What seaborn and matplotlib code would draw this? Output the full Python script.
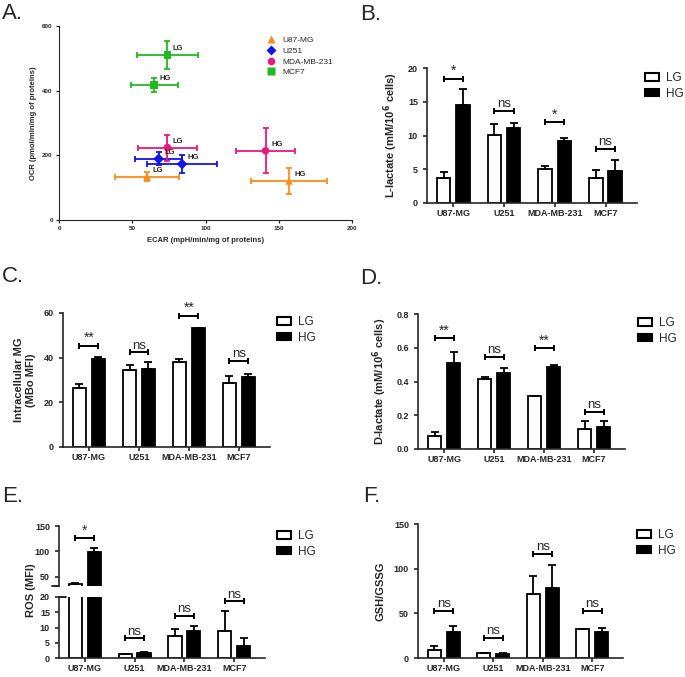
import numpy as np
import pandas as pd
import matplotlib
matplotlib.use("Agg")
import matplotlib.pyplot as plt
import seaborn as sns
from matplotlib.patches import Patch

cells = ["U87-MG", "U251", "MDA-MB-231", "MCF7"]
conds = ["LG", "HG"]

# A. ECAR vs OCR (mean, error) for LG and HG
ecar_lg = [60, 68, 74, 74]
ecar_hg = [157, 84, 141, 65]
ecar_lg_err = [22, 16, 20, 21]
ecar_hg_err = [26, 24, 20, 16]
ocr_lg = [134, 189, 224, 510]
ocr_hg = [121, 173, 214, 418]
ocr_lg_err = [14, 20, 40, 43]
ocr_hg_err = [40, 29, 69, 21]
cell_colors = ["#FF8C1A", "#1414E6", "#E8197D", "#22B822"]
cell_markers = ["^", "D", "o", "s"]

# B. L-lactate
llac_lg = [3.7, 10.1, 5.0, 3.7]
llac_hg = [14.5, 11.1, 9.2, 4.8]
llac_lg_err = [0.9, 1.6, 0.5, 1.2]
llac_hg_err = [2.4, 0.8, 0.5, 1.5]
llac_sig = ["*", "ns", "*", "ns"]
llac_sig_y = [18.4, 13.7, 12.0, 8.0]

# C. intracellular MG
mg_lg = [26.6, 34.3, 37.9, 28.5]
mg_hg = [39.3, 34.9, 53.2, 31.3]
mg_lg_err = [1.5, 2.4, 1.3, 3.4]
mg_hg_err = [1.2, 3.1, 0.3, 1.3]
mg_sig = ["**", "ns", "**", "ns"]
mg_sig_y = [45.3, 42.4, 58.8, 38.7]

# D. D-lactate
dlac_lg = [0.079, 0.413, 0.312, 0.121]
dlac_hg = [0.512, 0.453, 0.484, 0.130]
dlac_lg_err = [0.024, 0.016, 0.004, 0.047]
dlac_hg_err = [0.065, 0.027, 0.014, 0.038]
dlac_sig = ["**", "ns", "**", "ns"]
dlac_sig_y = [0.656, 0.547, 0.597, 0.221]

# E. ROS
ros_lg = [36.0, 1.2, 7.3, 8.8]
ros_hg = [99.7, 1.7, 8.8, 3.9]
ros_lg_err = [2.5, 0.2, 2.3, 6.6]
ros_hg_err = [8.0, 0.2, 1.7, 2.5]
ros_sig = ["*", "ns", "ns", "ns"]
ros_sig_y = [127.0, 6.4, 13.9, 18.7]

# F. GSH/GSSG
gsh_lg = [8.5, 5.6, 72.2, 32.6]
gsh_hg = [28.9, 4.8, 77.8, 28.9]
gsh_lg_err = [4.8, 0.4, 19.7, 0.3]
gsh_hg_err = [6.7, 0.4, 25.9, 4.8]
gsh_sig = ["ns", "ns", "ns", "ns"]
gsh_sig_y = [53.0, 22.6, 116.7, 53.0]

sns.set_style("ticks")
plt.rcParams["font.family"] = ["Liberation Sans", "DejaVu Sans"]

W, H = 685, 677
fig = plt.figure(figsize=(W / 100, H / 100), dpi=100)


def px_axes(left, top, right, bottom):
    return fig.add_axes([left / W, 1 - bottom / H, (right - left) / W, (bottom - top) / H])


def bold_ticks(ax, size):
    ax.tick_params(labelsize=size)
    for t in ax.get_xticklabels() + ax.get_yticklabels():
        t.set_fontweight("bold")


def bars(ax, lg, hg, lg_err, hg_err, sig, sig_y, ylim):
    df = pd.DataFrame({"cell": cells * 2, "cond": ["LG"] * 4 + ["HG"] * 4,
                       "val": list(lg) + list(hg)})
    sns.barplot(data=df, x="cell", y="val", hue="cond", order=cells, hue_order=conds,
                palette={"LG": "white", "HG": "black"}, edgecolor="black", linewidth=1.3,
                width=0.76, gap=0.3, errorbar=None, legend=False, ax=ax)
    x = np.arange(len(cells))
    for off, v, e in [(-0.19, lg, lg_err), (0.19, hg, hg_err)]:
        ax.errorbar(x + off, v, yerr=[np.zeros(len(v)), e], fmt="none", ecolor="black",
                    elinewidth=1.3, capsize=3, capthick=1.3)
    for xi, s, yi in zip(x, sig, sig_y):
        if ylim[0] < yi < ylim[1]:
            ax.errorbar(xi, yi, xerr=0.19, fmt="none", ecolor="black",
                        elinewidth=1.4, capsize=2.5, capthick=1.4)
            ax.text(xi, yi + (ylim[1] - ylim[0]) * 0.005, s, ha="center", va="bottom",
                    fontsize=10 if "*" in s else 9.5)
    ax.set_xlim(-0.52, 3.62)
    ax.set_ylim(*ylim)
    ax.set_xlabel("")
    ax.set_ylabel("")
    sns.despine(ax=ax)
    for s in ["left", "bottom"]:
        ax.spines[s].set_linewidth(1.2)
    ax.tick_params(width=1.2, length=3)
    ax.tick_params(axis="x", pad=1.5)
    bold_ticks(ax, 6.5)


def bar_legend(ax, x, y):
    handles = [Patch(facecolor="white", edgecolor="black", linewidth=1.5),
               Patch(facecolor="black", edgecolor="black", linewidth=1.5)]
    ax.legend(handles, conds, loc="upper left", bbox_to_anchor=(x / W, 1 - y / H),
              bbox_transform=fig.transFigure, frameon=False, fontsize=8.5,
              handlelength=1.2, handleheight=0.6, borderpad=0, borderaxespad=0,
              labelspacing=0.3, handletextpad=0.6)


def ylabel(ax, text, pad):
    ax.set_ylabel(text, fontsize=8, fontweight="bold", labelpad=pad)


# ---- A
axA = px_axes(59, 26, 352, 220)
dfA = pd.DataFrame({"cell": cells * 2, "ecar": ecar_lg + ecar_hg, "ocr": ocr_lg + ocr_hg})
pal = dict(zip(cells, cell_colors))
sns.scatterplot(data=dfA, x="ecar", y="ocr", hue="cell", style="cell", hue_order=cells,
                style_order=cells, palette=pal, markers=dict(zip(cells, cell_markers)),
                s=30, edgecolor="none", zorder=3, ax=axA)
for i, c in enumerate(cells):
    for xv, yv, xe, ye, lab in [(ecar_lg[i], ocr_lg[i], ecar_lg_err[i], ocr_lg_err[i], "LG"),
                                (ecar_hg[i], ocr_hg[i], ecar_hg_err[i], ocr_hg_err[i], "HG")]:
        axA.errorbar(xv, yv, xerr=xe, yerr=ye, fmt="none", ecolor=cell_colors[i],
                     elinewidth=1.3, capsize=2.5, capthick=1.3)
        axA.annotate(lab, (xv, yv), xytext=(4, 2), textcoords="offset points",
                     fontsize=5.5, fontweight="bold", va="bottom")
axA.set_xlim(0, 200)
axA.set_ylim(0, 600)
axA.set_xticks([0, 50, 100, 150, 200])
axA.set_yticks([0, 200, 400, 600])
axA.set_xlabel("ECAR (mpH/min/mg of proteins)", fontsize=5.5, fontweight="bold", labelpad=4)
axA.set_ylabel("OCR (pmol/min/mg of proteins)", fontsize=5.5, fontweight="bold", labelpad=4)
sns.despine(ax=axA)
axA.tick_params(width=0.9, length=2.5, pad=2)
bold_ticks(axA, 4.5)
sns.move_legend(axA, "upper left", bbox_to_anchor=(258 / W, 1 - 32 / H),
                bbox_transform=fig.transFigure, title=None, frameon=False, fontsize=6,
                markerscale=1.0, handletextpad=0.4, labelspacing=0.35, borderpad=0)

# ---- B
axB = px_axes(427, 68, 637, 203)
bars(axB, llac_lg, llac_hg, llac_lg_err, llac_hg_err, llac_sig, llac_sig_y, (0, 20))
axB.set_yticks([0, 5, 10, 15, 20])
ylabel(axB, "L-lactate (mM/10$^{\\mathbf{6}}$ cells)", 6)
bar_legend(axB, 645, 72)

# ---- C
axC = px_axes(63, 313, 270, 447)
bars(axC, mg_lg, mg_hg, mg_lg_err, mg_hg_err, mg_sig, mg_sig_y, (0, 60))
axC.set_yticks([0, 20, 40, 60])
ylabel(axC, "Intracellular MG\n(MBo MFI)", 6)
bar_legend(axC, 277, 316)

# ---- D
axD = px_axes(418, 314, 625, 449)
bars(axD, dlac_lg, dlac_hg, dlac_lg_err, dlac_hg_err, dlac_sig, dlac_sig_y, (0, 0.8))
axD.set_yticks([0, 0.2, 0.4, 0.6, 0.8])
axD.set_yticklabels(["0.0", "0.2", "0.4", "0.6", "0.8"], fontweight="bold")
ylabel(axD, "D-lactate (mM/10$^{\\mathbf{6}}$ cells)", 5)
bar_legend(axD, 638, 317)

# ---- E (broken axis)
axEu = px_axes(59, 526, 265, 586)
axEl = px_axes(59, 597, 265, 658)
bars(axEu, ros_lg, ros_hg, ros_lg_err, ros_hg_err, ros_sig, ros_sig_y, (32, 150))
bars(axEl, ros_lg, ros_hg, ros_lg_err, ros_hg_err, ros_sig, ros_sig_y, (0, 20))
axEu.set_yticks([50, 100, 150])
axEl.set_yticks([0, 5, 10, 15, 20])
axEu.spines["bottom"].set_visible(False)
axEu.tick_params(axis="x", bottom=False, labelbottom=False)
axEu.plot([-0.035, 0.0], [0.0, 0.0], transform=axEu.transAxes, color="black", lw=1.2, clip_on=False)
axEl.plot([0.0, 0.035], [1.0, 1.0], transform=axEl.transAxes, color="black", lw=1.2, clip_on=False)
fig.text(31 / W, 1 - 590 / H, "ROS (MFI)", rotation=90, ha="center", va="center",
         fontsize=8, fontweight="bold")
bar_legend(axEl, 277, 530)

# ---- F
axF = px_axes(418, 524, 623, 658)
bars(axF, gsh_lg, gsh_hg, gsh_lg_err, gsh_hg_err, gsh_sig, gsh_sig_y, (0, 150))
axF.set_yticks([0, 50, 100, 150])
ylabel(axF, "GSH/GSSG", 6)
bar_legend(axF, 637, 529)

for ax in [axB, axC, axD, axEl, axEu, axF]:
    bold_ticks(ax, 6.5)

# panel letters
for lab, x, y in [("A.", 2, 3), ("B.", 360, 4), ("C.", 2, 266), ("D.", 360, 268),
                  ("E.", 2, 486), ("F.", 363, 486)]:
    fig.text(x / W, 1 - y / H, lab, fontsize=16, ha="left", va="top")

fig.savefig("out.png", dpi=100)
